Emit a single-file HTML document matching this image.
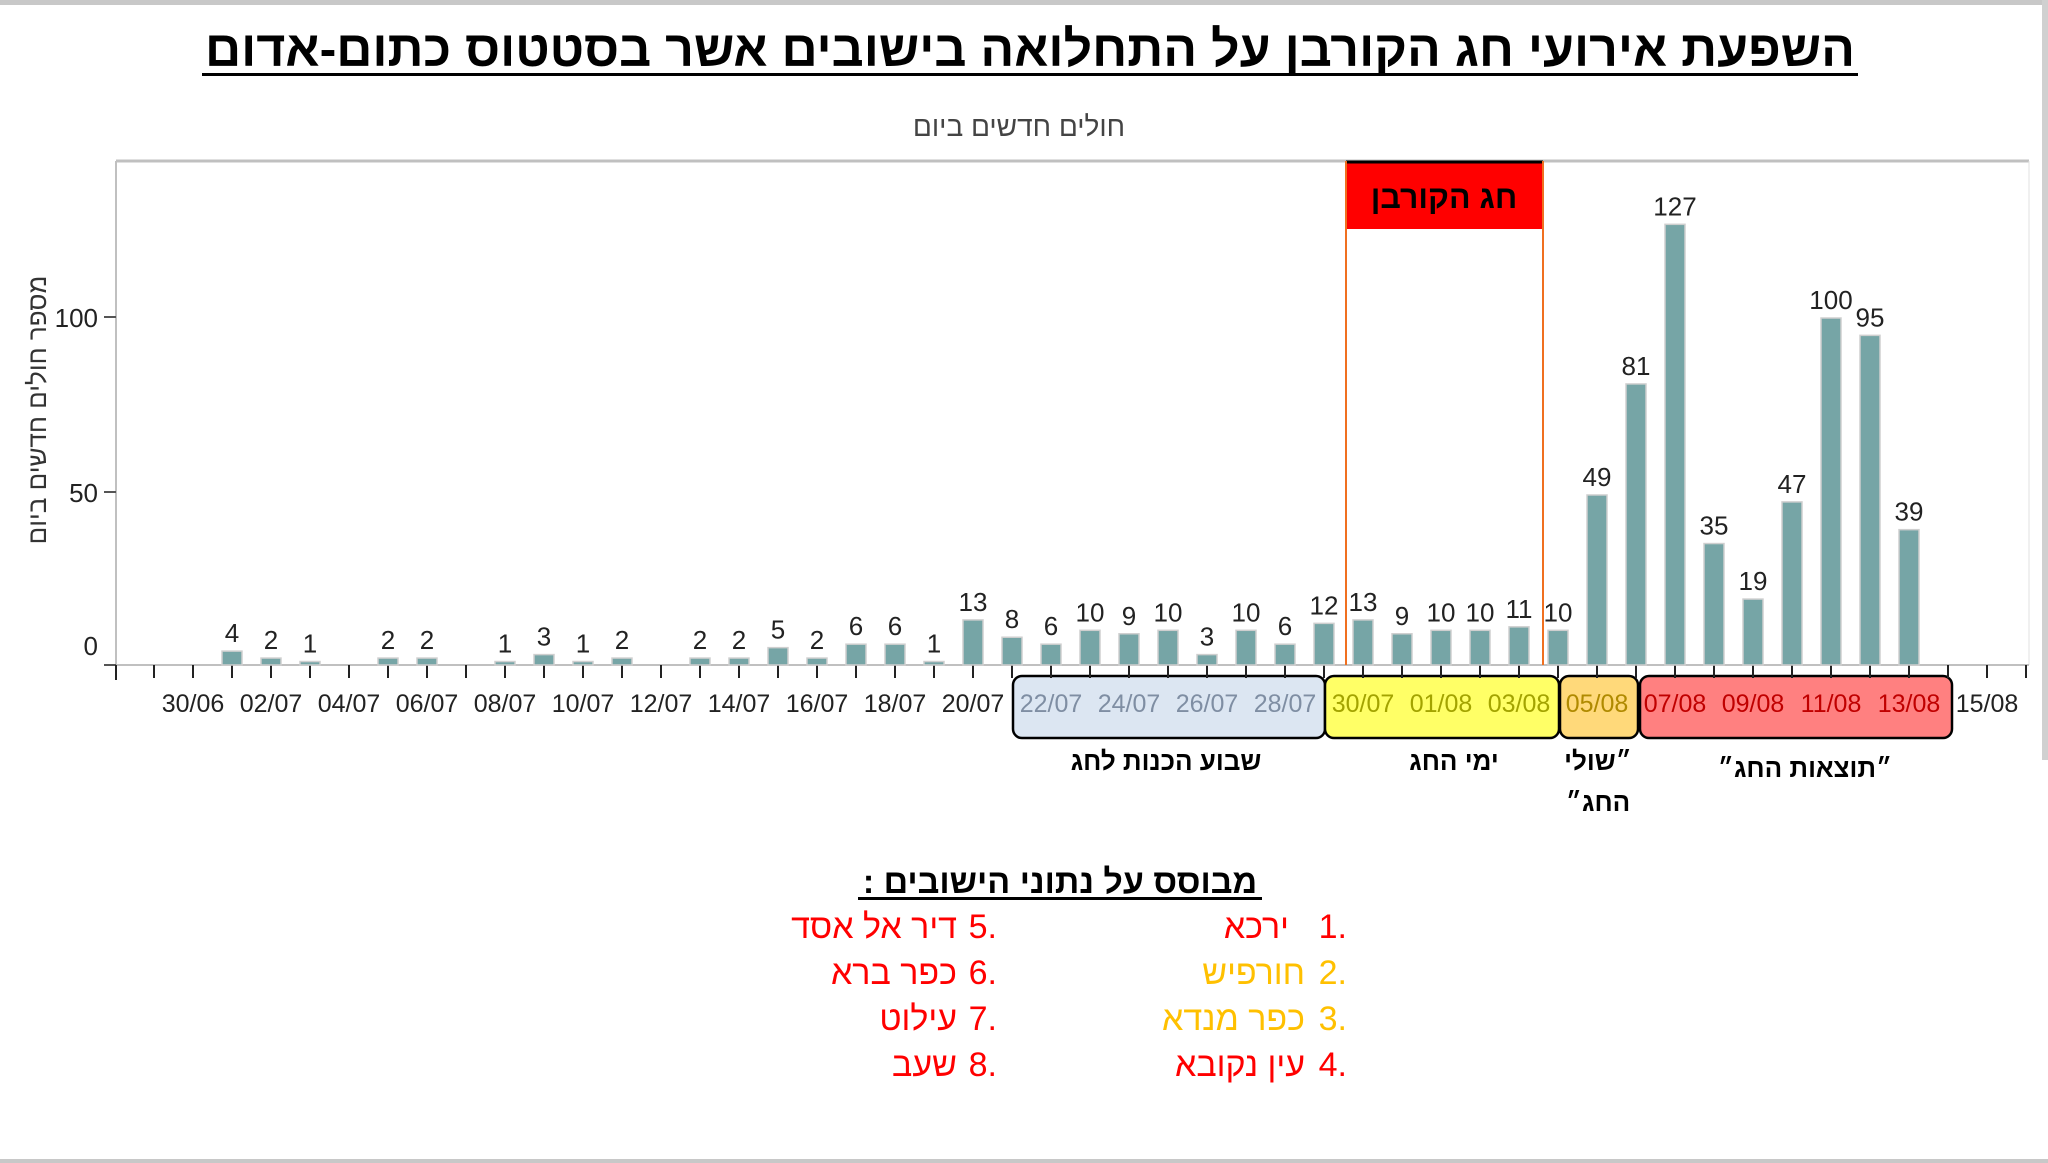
<!DOCTYPE html>
<html><head><meta charset="utf-8"><style>
html,body{margin:0;padding:0;background:#fff;}
svg{display:block;}
text{font-family:"Liberation Sans","Noto Sans CJK SC",sans-serif;}
</style></head><body>
<svg width="2048" height="1163" viewBox="0 0 2048 1163" xmlns="http://www.w3.org/2000/svg">
<rect x="0" y="0" width="2048" height="1163" fill="#fff"/>
<rect x="0" y="0" width="2048" height="5" fill="#c8c8c8"/>
<rect x="2042" y="0" width="6" height="760" fill="#d0d0d0"/>
<rect x="0" y="1159" width="2048" height="4" fill="#c8c8c8"/>

<text x="1030" y="66" text-anchor="middle" font-size="50" font-weight="bold" direction="rtl" fill="#000" textLength="1650" lengthAdjust="spacingAndGlyphs">השפעת אירועי חג הקורבן על התחלואה בישובים אשר בסטטוס כתום-אדום</text>
<rect x="202" y="73" width="1656" height="3" fill="#000"/>
<text x="1019" y="136" text-anchor="middle" font-size="28" direction="rtl" fill="#444">חולים חדשים ביום</text>

<line x1="116" y1="161" x2="2029" y2="161" stroke="#c0c0c0" stroke-width="3"/>
<line x1="116" y1="161" x2="116" y2="665" stroke="#c0c0c0" stroke-width="2"/>
<line x1="2029" y1="161" x2="2029" y2="665" stroke="#e0e0e0" stroke-width="1"/>
<line x1="116" y1="665" x2="2029" y2="665" stroke="#c0c0c0" stroke-width="2"/>

<g font-size="26" fill="#222" text-anchor="end">
<text x="98" y="327">100</text>
<text x="98" y="502">50</text>
<text x="98" y="655">0</text>
</g>
<g stroke="#555" stroke-width="2">
<line x1="104" y1="317" x2="116" y2="317"/>
<line x1="104" y1="492" x2="116" y2="492"/>
<line x1="104" y1="665" x2="116" y2="665"/>
</g>
<text transform="translate(46,410) rotate(-90)" text-anchor="middle" font-size="26" direction="rtl" fill="#333">מספר חולים חדשים ביום</text>

<rect x="1346" y="161" width="197" height="68" fill="#ff0000"/>
<line x1="1346" y1="162" x2="1543" y2="162" stroke="#000" stroke-width="3"/>
<text x="1444" y="208" text-anchor="middle" font-size="32" font-weight="bold" direction="rtl" fill="#000">חג הקורבן</text>
<line x1="1346" y1="161" x2="1346" y2="665" stroke="#f07020" stroke-width="2"/>
<line x1="1543" y1="161" x2="1543" y2="665" stroke="#f07020" stroke-width="2"/>

<rect x="1013" y="676" width="312" height="62" rx="9" fill="#dce6f2" stroke="#000" stroke-width="2.5"/>
<rect x="1325" y="676" width="234" height="62" rx="9" fill="#ffff66" stroke="#000" stroke-width="2.5"/>
<rect x="1560" y="676" width="78" height="62" rx="9" fill="#ffd97a" stroke="#000" stroke-width="2.5"/>
<rect x="1640" y="676" width="312" height="62" rx="9" fill="#ff8080" stroke="#000" stroke-width="2.5"/>

<g id="ticks" stroke="#222" stroke-width="2">
<line x1="116" y1="665" x2="116" y2="680"/>
</g>
<g id="bars"></g>
<g id="xl" font-size="25" text-anchor="middle"></g>

<g font-size="26" font-weight="bold" text-anchor="middle" direction="rtl" fill="#000">
<text x="1166" y="770">שבוע הכנות לחג</text>
<text x="1454" y="770">ימי החג</text>
<text x="1598" y="770">״שולי</text>
<text x="1598" y="811">החג״</text>
<text x="1805" y="777">״תוצאות החג״</text>
</g>

<text x="1060" y="893" text-anchor="middle" font-size="34" font-weight="bold" direction="rtl" fill="#000">מבוסס על נתוני הישובים :</text>
<rect x="858" y="897" width="404" height="3" fill="#000"/>
<g font-size="34" text-anchor="end">
<text x="1347" y="938" fill="#ff0000">1.</text>
<text x="1347" y="984" fill="#ffc000">2.</text>
<text x="1347" y="1030" fill="#ffc000">3.</text>
<text x="1347" y="1076" fill="#ff0000">4.</text>
<text x="997" y="938" fill="#ff0000">5.</text>
<text x="997" y="984" fill="#ff0000">6.</text>
<text x="997" y="1030" fill="#ff0000">7.</text>
<text x="997" y="1076" fill="#ff0000">8.</text>
</g>
<g font-size="34" text-anchor="start" direction="rtl">
<text x="1289" y="938" fill="#ff0000">ירכא</text>
<text x="1305" y="984" fill="#ffc000">חורפיש</text>
<text x="1305" y="1030" fill="#ffc000">כפר מנדא</text>
<text x="1305" y="1076" fill="#ff0000">עין נקובא</text>
<text x="957" y="938" fill="#ff0000">דיר אל אסד</text>
<text x="957" y="984" fill="#ff0000">כפר ברא</text>
<text x="957" y="1030" fill="#ff0000">עילוט</text>
<text x="957" y="1076" fill="#ff0000">שעב</text>
</g>
</svg>
<script>
var ns="http://www.w3.org/2000/svg";
function el(t,a,p,txt){var e=document.createElementNS(ns,t);for(var k in a)e.setAttribute(k,a[k]);if(txt!=null)e.textContent=txt;document.getElementById(p).appendChild(e);return e;}
function X(d){return 115+39*d;}
var data={3:4,4:2,5:1,7:2,8:2,10:1,11:3,12:1,13:2,15:2,16:2,17:5,18:2,19:6,20:6,21:1,22:13,23:8,24:6,25:10,26:9,27:10,28:3,29:10,30:6,31:12,32:13,33:9,34:10,35:10,36:11,37:10,38:49,39:81,40:127,41:35,42:19,43:47,44:100,45:95,46:39};
for(var d=1;d<=49;d++){var x=X(d);if(x>2029)break;el('line',{x1:x,y1:665,x2:x,y2:678},'ticks');}
for(var k in data){var d=+k,v=data[k],x=X(d),h=v*3.47,y=665-h;
el('rect',{x:x-10,y:y,width:20,height:h,fill:'#76a5a6',stroke:'#cfcfcf','stroke-width':1.5},'bars');
el('text',{x:x,y:y-9,'text-anchor':'middle','font-size':26,fill:'#222'},'bars',String(v));}
var labels=["30/06","02/07","04/07","06/07","08/07","10/07","12/07","14/07","16/07","18/07","20/07","22/07","24/07","26/07","28/07","30/07","01/08","03/08","05/08","07/08","09/08","11/08","13/08","15/08"];
for(var i=0;i<labels.length;i++){var d=2+2*i,x=X(d);var c='#222';
if(d>=24&&d<=30)c='#7f8ea3';else if(d>=32&&d<=36)c='#a3a300';else if(d==38)c='#b08a00';else if(d>=40&&d<=46)c='#c00000';
el('text',{x:x,y:712,fill:c},'xl',labels[i]);}
</script>
</body></html>
